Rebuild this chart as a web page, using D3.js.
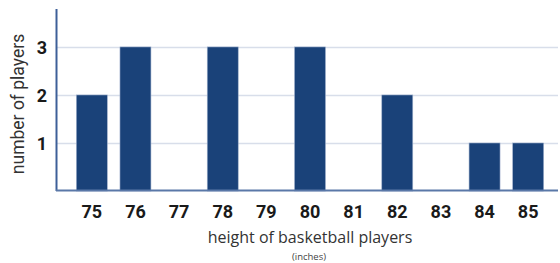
<!DOCTYPE html>
<html><head><meta charset="utf-8">
<script src="https://cdn.jsdelivr.net/npm/d3@7"></script>
<style>body{margin:0;background:#fff}svg{display:block}</style>
</head><body>
<script>
const heights = ["75","76","77","78","79","80","81","82","83","84","85"];
const counts = [2,3,0,3,0,3,0,2,0,1,1];
const yTicks = [1,2,3];
const xTitle = "height of basketball players";
const xSub = "(inches)";
const yTitle = "number of players";

const W = 560, H = 263;
const svg = d3.select("body").append("svg").attr("width", W).attr("height", H);
const x = d3.scaleBand().domain(heights).range([70, 550]).paddingInner(0.29).paddingOuter(0.145);
const y = d3.scaleLinear().domain([0, 3.79]).range([191, 9]);

// gridlines
svg.append("g").selectAll("line").data(yTicks).join("line")
  .attr("x1", 56).attr("x2", 558)
  .attr("y1", d => Math.round(y(d)) + 0.5).attr("y2", d => Math.round(y(d)) + 0.5)
  .attr("stroke", "#d8deea").attr("stroke-width", 1.5);

// bars
svg.append("g").selectAll("rect").data(heights.map((h,i)=>({h, v: counts[i]})).filter(d=>d.v>0)).join("rect")
  .attr("x", d => x(d.h)).attr("width", x.bandwidth())
  .attr("y", d => y(d.v)).attr("height", d => y(0) - y(d.v))
  .attr("fill", "#1a4279").attr("stroke", "#9fb0cc").attr("stroke-width", 0.6);

// axes lines
svg.append("line").attr("x1", 56.5).attr("x2", 56.5).attr("y1", 9).attr("y2", 191)
  .attr("stroke", "#3d5f98").attr("stroke-width", 2);
svg.append("line").attr("x1", 56).attr("x2", 558).attr("y1", 190.5).attr("y2", 190.5)
  .attr("stroke", "#5a78a8").attr("stroke-width", 1.8);

// x tick labels
const xa = d3.axisBottom(x).tickSize(0).tickPadding(0);
const gx = svg.append("g").attr("transform", "translate(0,205)").call(xa);
gx.select(".domain").remove();
gx.selectAll("text").attr("dy", "0.71em").attr("font-family", "Roboto, sans-serif")
  .attr("font-size", 18).attr("font-weight", "bold").attr("fill", "#1a1a1a");

// y tick labels
const ya = d3.axisLeft(y).tickValues(yTicks).tickSize(0).tickPadding(0).tickFormat(d3.format("d"));
const gy = svg.append("g").attr("transform", "translate(47,0)").call(ya);
gy.select(".domain").remove();
gy.selectAll("text").attr("dy", "0.36em").attr("font-family", "Roboto, sans-serif")
  .attr("font-size", 18).attr("font-weight", "bold").attr("fill", "#1a1a1a");

// titles
svg.append("text").attr("x", 310).attr("y", 243).attr("text-anchor", "middle")
  .attr("font-family", "Open Sans, sans-serif").attr("font-size", 16).attr("fill", "#333")
  .text(xTitle);
svg.append("text").attr("x", 309).attr("y", 259.5).attr("text-anchor", "middle")
  .attr("font-family", "Open Sans, sans-serif").attr("font-size", 9.5).attr("fill", "#444")
  .text(xSub);
svg.append("text").attr("transform", "translate(24,104) rotate(-90)").attr("text-anchor", "middle")
  .attr("font-family", "Roboto, sans-serif").attr("font-size", 17.5).attr("fill", "#333")
  .text(yTitle);
</script>
</body></html>
